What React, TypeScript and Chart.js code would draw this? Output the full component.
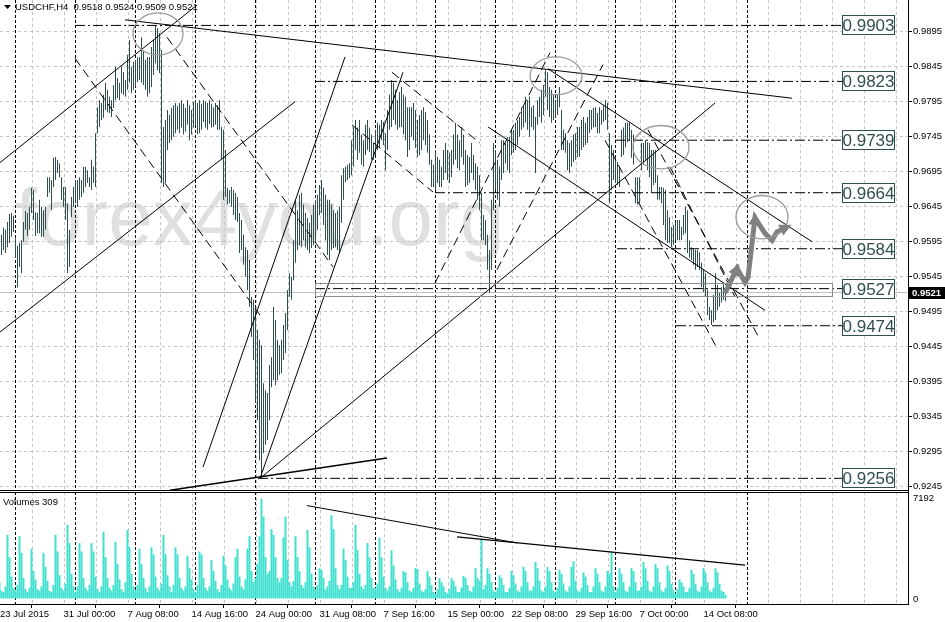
import React, { useEffect, useRef } from "react";
import { Chart, registerables } from "chart.js";

Chart.register(...registerables);

const FONT = '"Liberation Sans", Arial, sans-serif';

// ---------- texts ----------
const SYMBOL_TITLE = "USDCHF,H4";
const LAST_OHLC = ["0.9518", "0.9524", "0.9509", "0.9521"];
const VOLUME_TITLE = "Volumes 309";
const WATERMARK = "forex4you.org";
const BID = 0.9521;

// ---------- price data (H4 bars, index 0 = 23 Jul 2015 16:00) ----------
const HIGHS = [
  .9596,.9604,.9614,.9611,.9622,.9634,.9635,.9631,.9599,.9588,
  .9592,.9596,.9622,.9638,.9635,.9644,.9671,.9668,.9636,.9635,
  .9654,.9644,.9639,.9644,.9686,.9686,.9682,.9714,.9715,.9711,
  .9706,.9686,.9672,.9672,.9649,.9611,.9658,.9672,.9682,.9682,
  .9686,.9682,.9701,.9701,.9696,.9686,.9711,.9701,.9749,.9786,
  .9796,.9792,.9804,.9821,.9811,.9801,.9796,.9818,.9844,.9828,
  .9821,.9844,.9836,.9825,.9861,.9882,.9844,.9851,.9854,.9857,
  .9858,.9886,.9868,.9854,.9858,.9858,.9872,.9882,.9903,.9899,
  .9892,.9868,.9758,.9768,.9782,.9775,.9785,.9789,.9792,.9788,
  .9792,.9796,.9791,.9785,.9796,.9789,.9782,.9794,.9796,.9792,
  .9796,.9791,.9796,.9794,.9792,.9796,.9791,.9786,.9792,.9789,
  .9796,.9758,.9754,.9725,.9671,.9668,.9672,.9668,.9664,.9658,
  .9635,.9625,.9604,.9586,.9582,.9568,.9515,.9511,.9501,.9468,
  .9454,.9446,.9392,.9382,.9378,.9418,.9429,.9501,.9482,.9454,
  .9446,.9454,.9475,.9492,.9525,.9549,.9544,.9596,.9654,.9639,
  .9661,.9664,.9647,.9635,.9628,.9621,.9632,.9647,.9654,.9661,
  .9675,.9682,.9671,.9661,.9654,.9654,.9647,.9639,.9635,.9639,
  .9644,.9689,.9699,.9701,.9704,.9706,.9739,.9758,.9768,.9757,
  .9768,.9747,.9739,.9761,.9768,.9757,.9747,.9735,.9754,.9764,
  .9761,.9768,.9765,.9749,.9782,.9804,.9825,.9821,.9811,.9796,
  .9808,.9815,.9804,.9801,.9786,.9786,.9786,.9792,.9782,.9768,
  .9775,.9782,.9786,.9779,.9768,.9747,.9711,.9704,.9725,.9715,
  .9711,.9701,.9725,.9735,.9725,.9721,.9725,.9747,.9764,.9747,
  .9739,.9758,.9747,.9725,.9718,.9715,.9735,.9718,.9706,.9701,
  .9689,.9664,.9632,.9625,.9604,.9582,.9654,.9735,.9725,.9711,
  .9701,.9739,.9739,.9735,.9739,.9744,.9754,.9754,.9764,.9768,
  .9772,.9786,.9789,.9801,.9796,.9801,.9786,.9789,.9772,.9796,
  .9801,.9811,.9818,.9839,.9836,.9815,.9811,.9804,.9796,.9804,
  .9815,.9782,.9754,.9749,.9739,.9735,.9739,.9747,.9749,.9758,
  .9758,.9768,.9772,.9764,.9772,.9782,.9782,.9785,.9786,.9778,
  .9786,.9782,.9789,.9796,.9792,.9749,.9732,.9725,.9715,.9708,
  .9701,.9754,.9757,.9764,.9764,.9764,.9754,.9747,.9686,.9686,
  .9686,.9735,.9735,.9739,.9736,.9735,.9725,.9725,.9725,.9689,
  .9672,.9672,.9671,.9668,.9639,.9629,.9615,.9618,.9621,.9625,
  .9625,.9615,.9632,.9644,.9639,.9596,.9586,.9585,.9582,.9582,
  .9579,.9564,.9554,.9549,.9525,.9501,.9496,.9518,.9549,.9532,
  .9521,.9529,.9535,.9524,
];
const LOWS = [
  .9568,.9575,.9582,.9578,.9586,.9592,.9601,.9608,.9571,.9529,
  .9558,.9549,.9594,.9611,.9602,.9611,.9635,.9625,.9602,.9606,
  .9606,.9601,.9601,.9611,.9658,.9664,.9639,.9672,.9682,.9692,
  .9686,.9654,.9644,.9625,.9549,.9558,.9629,.9644,.9649,.9644,
  .9654,.9658,.9664,.9672,.9678,.9672,.9668,.9678,.9672,.9749,
  .9758,.9768,.9771,.9782,.9779,.9778,.9772,.9785,.9796,.9799,
  .9796,.9806,.9804,.9801,.9811,.9821,.9806,.9811,.9815,.9822,
  .9825,.9821,.9818,.9811,.9801,.9806,.9815,.9832,.9849,.9839,
  .9835,.9678,.9672,.9678,.9725,.9735,.9739,.9744,.9749,.9754,
  .9749,.9757,.9747,.9751,.9761,.9739,.9747,.9757,.9761,.9747,
  .9749,.9754,.9765,.9757,.9754,.9762,.9757,.9758,.9761,.9754,
  .9754,.9711,.9654,.9658,.9647,.9649,.9644,.9632,.9625,.9622,
  .9578,.9582,.9561,.9544,.9525,.9501,.9458,.9425,.9364,.9339,
  .9282,.9256,.9292,.9304,.9311,.9339,.9386,.9396,.9389,.9396,
  .9404,.9406,.9425,.9435,.9468,.9515,.9511,.9539,.9564,.9582,
  .9589,.9586,.9596,.9586,.9582,.9578,.9585,.9589,.9592,.9611,
  .9632,.9635,.9618,.9596,.9575,.9568,.9582,.9585,.9586,.9582,
  .9578,.9621,.9654,.9679,.9682,.9685,.9689,.9701,.9725,.9711,
  .9721,.9704,.9701,.9718,.9725,.9722,.9711,.9711,.9718,.9725,
  .9728,.9739,.9732,.9696,.9725,.9754,.9758,.9768,.9761,.9754,
  .9757,.9758,.9747,.9739,.9715,.9725,.9744,.9739,.9728,.9715,
  .9718,.9725,.9739,.9732,.9721,.9704,.9672,.9672,.9668,.9678,
  .9672,.9672,.9682,.9692,.9682,.9678,.9686,.9704,.9711,.9699,
  .9696,.9715,.9704,.9672,.9675,.9678,.9692,.9682,.9668,.9654,
  .9639,.9596,.9596,.9589,.9554,.9521,.9554,.9639,.9668,.9654,
  .9644,.9682,.9692,.9706,.9696,.9692,.9718,.9721,.9725,.9732,
  .9744,.9754,.9757,.9764,.9754,.9744,.9758,.9754,.9692,.9761,
  .9772,.9764,.9775,.9801,.9782,.9772,.9764,.9768,.9772,.9775,
  .9786,.9725,.9725,.9721,.9696,.9692,.9701,.9708,.9711,.9715,
  .9715,.9725,.9729,.9732,.9735,.9749,.9754,.9757,.9758,.9749,
  .9749,.9761,.9765,.9768,.9754,.9649,.9668,.9682,.9678,.9675,
  .9672,.9715,.9718,.9729,.9736,.9739,.9714,.9704,.9649,.9647,
  .9649,.9696,.9704,.9711,.9696,.9686,.9664,.9675,.9678,.9654,
  .9654,.9649,.9618,.9596,.9592,.9592,.9586,.9589,.9596,.9596,
  .9596,.9596,.9604,.9606,.9578,.9571,.9568,.9561,.9554,.9558,
  .9554,.9529,.9522,.9515,.9489,.9482,.9475,.9479,.9482,.9496,
  .9501,.9507,.9511,.9509,
];
const VOLUMES = [
  1200, 600,
  500, 900, 4600, 3000, 1600, 800,
  600, 1000, 4500, 3300, 1500, 700,
  500, 800, 3600, 2000, 1400, 700,
  600, 900, 3300, 2300, 1300, 600,
  500, 1000, 4600, 3400, 1700, 800,
  600, 1100, 5300, 4000, 1800, 900,
  500, 900, 4000, 3400, 1500, 800,
  600, 1000, 4000, 3400, 1600, 700,
  500, 900, 4800, 3000, 1500, 800,
  600, 1000, 4100, 2500, 1400, 700,
  500, 1200, 4950, 3700, 1800, 900,
  600, 1000, 3600, 2500, 1500, 800,
  500, 900, 3700, 3200, 1600, 800,
  600, 1100, 4600, 3200, 1700, 900,
  500, 1000, 3700, 3200, 1500, 800,
  600, 900, 3100, 2200, 1400, 700,
  500, 1000, 3400, 3200, 1500, 800,
  600, 900, 2800, 2000, 1300, 700,
  500, 1000, 3100, 2400, 1400, 800,
  600, 1100, 3000, 3600, 1600, 900,
  700, 1400, 3600, 4500, 2000, 1200,
  1500, 2500, 4500, 7192, 5900, 3000,
  1800, 2000, 5000, 4600, 3000, 1500,
  1200, 1500, 4400, 5900, 2800, 1200,
  900, 1300, 4500, 3000, 2000, 1000,
  800, 1200, 4950, 3700, 1800, 900,
  700, 1000, 2200, 2100, 1500, 700,
  900, 1300, 6000, 5000, 2200, 1000,
  700, 1000, 3600, 2800, 1600, 800,
  800, 1200, 5300, 3500, 1800, 900,
  700, 1000, 4000, 3000, 1500, 800,
  800, 1100, 4400, 3000, 1600, 800,
  600, 900, 3500, 2400, 1400, 700,
  500, 800, 2000, 1900, 1200, 600,
  500, 800, 2200, 2150, 1100, 600,
  500, 700, 2000, 1600, 1000, 500,
  400, 700, 1500, 1200, 900, 500,
  400, 700, 1500, 1300, 900, 500,
  500, 800, 1650, 1500, 1000, 600,
  500, 900, 2200, 1500, 1300, 4300,
  700, 1000, 2200, 1800, 1200, 600,
  500, 800, 1700, 1500, 1000, 500,
  500, 800, 2000, 1700, 1100, 600,
  500, 900, 2300, 2000, 1200, 600,
  600, 900, 2650, 2200, 1300, 600,
  500, 900, 2300, 2000, 1200, 600,
  500, 800, 2100, 1800, 1100, 600,
  500, 900, 2300, 2700, 1300, 600,
  500, 800, 1900, 1600, 1000, 500,
  500, 900, 2200, 1800, 1200, 600,
  500, 900, 2000, 1800, 3400, 900,
  500, 800, 2200, 1800, 1200, 600,
  500, 900, 2200, 2000, 1200, 600,
  600, 900, 2650, 2200, 1300, 600,
  500, 900, 2500, 2200, 1200, 600,
  500, 800, 2400, 2000, 1100, 600,
  400, 700, 1400, 1200, 900, 500,
  500, 800, 2100, 1800, 1100, 600,
  500, 900, 2200, 1900, 1200, 600,
  500, 800, 2200, 1900, 1100, 600,
  500, 300,
];

// ---------- axes ----------
const PRICE_TICKS = [0.9895, 0.9845, 0.9795, 0.9745, 0.9695, 0.9645, 0.9595, 0.9545, 0.9495, 0.9445, 0.9395, 0.9345, 0.9295, 0.9245];
const VOLUME_TICKS = [7192, 0];
const TIME_TICK_BARS = [0.25, 32, 64, 96, 128, 160, 192, 224, 256, 288, 320, 352];
const TIME_TICK_LABELS = ["23 Jul 2015", "31 Jul 00:00", "7 Aug 08:00", "14 Aug 16:00", "24 Aug 00:00", "31 Aug 08:00", "7 Sep 16:00", "15 Sep 00:00", "22 Sep 08:00", "29 Sep 16:00", "7 Oct 00:00", "14 Oct 08:00"];
const WEEK_SEPARATOR_BARS = [8, 38, 68, 98, 128, 158, 188, 218, 248, 278, 308, 338, 374];

// ---------- drawings (bar index, price) ----------
const LEVELS = [0.9903, 0.9823, 0.9739, 0.9664, 0.9584, 0.9527, 0.9474, 0.9256];
const LEVEL_START_BARS = [37.75, 157.75, 307.75, 217.75, 308.75, 157.75, 338.25, 129.25];
const LEVEL_LABEL_BARS = [421.5, 447.25];
const SOLID_LINES = [
  [62.75, .9911, 396.25, .9799],
  [0.25, .9707, 98.75, .9932],
  [0.25, .9465, 147.75, .9794],
  [101.75, .9272, 172.75, .9858],
  [130.25, .9256, 201.75, .9836],
  [130.25, .9256, 357.75, .9792],
  [85.25, .9239, 193.75, .9285],
  [244.25, .9758, 382.75, .9496],
  [274.25, .9841, 406.25, .9594],
];
const DASHED_LINES = [
  [37.75, .9856, 130.25, .9489],
  [83.75, .9886, 166.75, .9558],
  [196.25, .9836, 240.25, .9735],
  [176.25, .9761, 216.75, .9665],
  [217.75, .9535, 275.25, .9864],
  [248.75, .9554, 301.75, .9847],
  [302.75, .9739, 358.75, .9442],
  [324.25, .9754, 380.25, .9454],
  [335.25, .9701, 367.75, .9515],
];
const VOLUME_LINES = [
  [153.75, 6688, 258.75, 4013],
  [228.75, 4446, 372.75, 2422],
];
const FORECAST_BARS = [362.75, 368.75, 372.75, 374.25, 377.75, 382.75, 386.25, 388.75, 393.75];
const FORECAST_PRICES = [.9521, .9556, .9536, .9543, .9628, .9606, .9596, .9608, .9615];
const FORECAST_HEADS = [1, 4, 8];
const ELLIPSES = [
  [79.25, .9891, 12.5, .0030],
  [278.25, .9831, 13, .0027],
  [330.75, .9729, 14, .0031],
  [381.25, .9629, 13, .0031],
];
const ZONE = [157.75, .9535, 416.25, .9516];
const WATERMARK_AT = [7.75, .9589];

// ---------- ranges ----------
const X_MIN = 0.25;
const X_MAX = 454.25;
const Y_MIN = 0.92379;
const Y_MAX = 0.99393;
const VOL_MIN = -361;
const VOL_MAX = 7662;
const GRID_FIRST_BAR = 16.25;
const GRID_STEP_BARS = 16;

const BAR_COLOR = "#2f4f4f";
const VOL_COLOR = "#40e0d0";

function hLine(ctx: CanvasRenderingContext2D, x0: number, x1: number, y: number) {
  ctx.beginPath(); ctx.moveTo(x0, y); ctx.lineTo(x1, y); ctx.stroke();
}
function vLine(ctx: CanvasRenderingContext2D, x: number, y0: number, y1: number) {
  ctx.beginPath(); ctx.moveTo(x, y0); ctx.lineTo(x, y1); ctx.stroke();
}

function drawVerticalGrid(chart: any) {
  const { ctx, chartArea: a } = chart;
  const xs = chart.scales.x;
  ctx.lineWidth = 1;
  ctx.strokeStyle = "#c4c4c4";
  ctx.setLineDash([3, 3]);
  for (let b = GRID_FIRST_BAR; b < X_MAX; b += GRID_STEP_BARS) {
    vLine(ctx, Math.floor(xs.getPixelForValue(b)) + 0.5, a.top, a.bottom);
  }
  ctx.strokeStyle = "#000";
  ctx.setLineDash([3, 2]);
  WEEK_SEPARATOR_BARS.forEach((b) => vLine(ctx, Math.floor(xs.getPixelForValue(b)) + 0.5, a.top, a.bottom));
  ctx.setLineDash([]);
}

const pricePlugin = {
  id: "pricePanel",
  beforeDatasetsDraw(chart: any) {
    const { ctx, chartArea: a } = chart;
    const xs = chart.scales.x, ys = chart.scales.y;
    ctx.save();
    ctx.beginPath(); ctx.rect(a.left, a.top, a.right - a.left, a.bottom - a.top); ctx.clip();
    ctx.font = `80px ${FONT}`;
    ctx.fillStyle = "#e0e0e0";
    ctx.textAlign = "left";
    ctx.textBaseline = "alphabetic";
    ctx.fillText(WATERMARK, xs.getPixelForValue(WATERMARK_AT[0]), ys.getPixelForValue(WATERMARK_AT[1]));
    ctx.lineWidth = 1;
    ctx.strokeStyle = "#c4c4c4";
    ctx.setLineDash([3, 3]);
    PRICE_TICKS.forEach((v) => hLine(ctx, a.left, a.right, Math.floor(ys.getPixelForValue(v)) + 0.5));
    drawVerticalGrid(chart);
    ctx.strokeStyle = "#c0c0c0";
    hLine(ctx, a.left, a.right, Math.floor(ys.getPixelForValue(BID)) + 0.5);
    ctx.restore();
  },
  afterDatasetsDraw(chart: any) {
    const { ctx, chartArea: a } = chart;
    const xs = chart.scales.x, ys = chart.scales.y;
    ctx.save();
    ctx.beginPath(); ctx.rect(a.left, a.top, a.right - a.left, a.bottom - a.top); ctx.clip();
    ctx.strokeStyle = "#9c9c9c";
    ctx.lineWidth = 1.3;
    ELLIPSES.forEach(([b, p, rb, rp]) => {
      const cx = xs.getPixelForValue(b), cy = ys.getPixelForValue(p);
      const rx = Math.abs(xs.getPixelForValue(b + rb) - cx);
      const ry = Math.abs(ys.getPixelForValue(p + rp) - cy);
      ctx.beginPath(); ctx.ellipse(cx, cy, rx, ry, 0, 0, Math.PI * 2); ctx.stroke();
    });
    ctx.lineWidth = 1;
    ctx.strokeStyle = "#8c8c8c";
    const zx0 = Math.floor(xs.getPixelForValue(ZONE[0])) + 0.5;
    const zx1 = Math.floor(xs.getPixelForValue(ZONE[2])) + 0.5;
    const zy0 = Math.floor(ys.getPixelForValue(ZONE[1])) + 0.5;
    const zy1 = Math.floor(ys.getPixelForValue(ZONE[3])) + 0.5;
    ctx.strokeRect(zx0, zy0, zx1 - zx0, zy1 - zy0);
    const pts = FORECAST_BARS.map((b, i) => [xs.getPixelForValue(b), ys.getPixelForValue(FORECAST_PRICES[i])]);
    ctx.fillStyle = "#808080";
    FORECAST_HEADS.forEach((i) => {
      const [x0, y0] = pts[i - 1];
      const [x1, y1] = pts[i];
      const ang = Math.atan2(y1 - y0, x1 - x0);
      const c = Math.cos(ang), s = Math.sin(ang);
      const tx = x1 + c * 5, ty = y1 + s * 5;
      const L = 12, W = 6;
      ctx.beginPath();
      ctx.moveTo(tx, ty);
      ctx.lineTo(tx - L * c + W * s, ty - L * s - W * c);
      ctx.lineTo(tx - L * c - W * s, ty - L * s + W * c);
      ctx.closePath();
      ctx.fill();
    });
    const bx0 = Math.floor(xs.getPixelForValue(LEVEL_LABEL_BARS[0])) + 0.5;
    const bx1 = Math.floor(xs.getPixelForValue(LEVEL_LABEL_BARS[1])) + 0.5;
    ctx.font = `17px ${FONT}`;
    ctx.textAlign = "center";
    ctx.textBaseline = "middle";
    LEVELS.forEach((v) => {
      const cy = Math.round(ys.getPixelForValue(v));
      ctx.fillStyle = "#fff";
      ctx.fillRect(bx0, cy - 9.5, bx1 - bx0, 19);
      ctx.strokeStyle = BAR_COLOR;
      ctx.strokeRect(bx0, cy - 9.5, bx1 - bx0, 19);
      ctx.fillStyle = BAR_COLOR;
      ctx.fillText(v.toFixed(4), (bx0 + bx1) / 2, cy + 1);
    });
    ctx.restore();
  },
  afterDraw(chart: any) {
    const { ctx, chartArea: a, width } = chart;
    const ys = chart.scales.y;
    ctx.save();
    ctx.strokeStyle = "#000";
    ctx.lineWidth = 1;
    hLine(ctx, 0, a.right, a.bottom - 0.5);
    ctx.fillStyle = "#000";
    ctx.beginPath(); ctx.moveTo(4, 5); ctx.lineTo(11, 5); ctx.lineTo(7.5, 9); ctx.closePath(); ctx.fill();
    ctx.font = `9.5px ${FONT}`;
    ctx.textAlign = "left";
    ctx.textBaseline = "middle";
    ctx.fillText(`${SYMBOL_TITLE}  ${LAST_OHLC.join(" ")}`, 15, 7.5);
    const by = Math.round(ys.getPixelForValue(BID));
    ctx.fillStyle = "#000";
    ctx.fillRect(a.right + 1, by - 6, width - a.right - 1, 12);
    ctx.fillStyle = "#fff";
    ctx.font = `bold 9.5px ${FONT}`;
    ctx.fillText(BID.toFixed(4), a.right + 4, by + 0.5);
    ctx.restore();
  },
};

const volumePlugin = {
  id: "volumePanel",
  beforeDatasetsDraw(chart: any) {
    const { ctx, chartArea: a } = chart;
    ctx.save();
    ctx.beginPath(); ctx.rect(a.left, a.top, a.right - a.left, a.bottom - a.top); ctx.clip();
    drawVerticalGrid(chart);
    ctx.restore();
  },
  afterDraw(chart: any) {
    const { ctx, chartArea: a } = chart;
    ctx.save();
    ctx.strokeStyle = "#000";
    ctx.lineWidth = 1;
    hLine(ctx, 0, a.right, a.top + 0.5);
    ctx.fillStyle = "#000";
    ctx.font = `9.5px ${FONT}`;
    ctx.textAlign = "left";
    ctx.textBaseline = "middle";
    ctx.fillText(VOLUME_TITLE, 3, a.top + 10);
    ctx.restore();
  },
};

function segmentDataset(seg: number[], color: string, dash: number[], width = 1) {
  return {
    type: "line" as const,
    data: [{ x: seg[0], y: seg[1] }, { x: seg[2], y: seg[3] }],
    borderColor: color,
    borderWidth: width,
    borderDash: dash,
    pointRadius: 0,
    fill: false,
    tension: 0,
    order: 1,
  };
}

function zeroPad(s: any) {
  s.paddingLeft = 0; s.paddingRight = 0; s.paddingTop = 0; s.paddingBottom = 0;
}

export default function App() {
  const priceRef = useRef<HTMLCanvasElement>(null);
  const volRef = useRef<HTMLCanvasElement>(null);

  useEffect(() => {
    document.body.style.margin = "0";
    const tickFont = { family: FONT, size: 9.5 };

    const priceDatasets: any[] = [
      {
        type: "bar",
        data: HIGHS.map((h, i) => ({ x: i, y: [LOWS[i], h] })),
        backgroundColor: BAR_COLOR,
        barThickness: 1,
        borderWidth: 0,
        inflateAmount: 0,
        order: 10,
      },
      ...LEVELS.map((v, i) => segmentDataset([LEVEL_START_BARS[i], v, LEVEL_LABEL_BARS[0], v], "#000", [10, 3, 2, 3])),
      ...SOLID_LINES.map((s, i) => segmentDataset(s, "#000", [], i === 6 ? 1.5 : 1)),
      ...DASHED_LINES.map((s) => segmentDataset(s, "#000", [9, 5])),
      {
        type: "line",
        data: FORECAST_BARS.map((b, i) => ({ x: b, y: FORECAST_PRICES[i] })),
        borderColor: "#808080",
        borderWidth: 5,
        borderJoinStyle: "miter",
        pointRadius: 0,
        fill: false,
        tension: 0,
        order: 0,
      },
    ];

    const priceChart = new Chart(priceRef.current!, {
      type: "bar",
      data: { datasets: priceDatasets },
      options: {
        responsive: false,
        animation: false,
        events: [],
        layout: { padding: { left: 0, right: 0, top: 0, bottom: 1 } },
        plugins: { legend: { display: false }, tooltip: { enabled: false } },
        scales: {
          x: { type: "linear", display: false, min: X_MIN, max: X_MAX, offset: false, bounds: "data" },
          y: {
            type: "linear",
            position: "right",
            min: Y_MIN,
            max: Y_MAX,
            bounds: "data",
            afterBuildTicks: (s: any) => { s.ticks = PRICE_TICKS.map((v) => ({ value: v })); },
            afterFit: (s: any) => { s.width = 37; zeroPad(s); },
            ticks: { callback: (v: any) => Number(v).toFixed(4), font: tickFont, color: "#000", padding: 1, autoSkip: false },
            grid: { drawOnChartArea: false, drawTicks: true, tickLength: 4, color: "#000" },
            border: { display: true, color: "#000" },
          },
        },
      } as any,
      plugins: [pricePlugin],
    });

    const volDatasets: any[] = [
      {
        type: "bar",
        data: VOLUMES.map((v, i) => ({ x: i, y: v })),
        backgroundColor: VOL_COLOR,
        barThickness: 2,
        borderWidth: 0,
        inflateAmount: 0,
        order: 10,
      },
      ...VOLUME_LINES.map((s, i) => segmentDataset(s, "#000", [], i === 0 ? 1 : 1.2)),
    ];

    const volChart = new Chart(volRef.current!, {
      type: "bar",
      data: { datasets: volDatasets },
      options: {
        responsive: false,
        animation: false,
        events: [],
        layout: { padding: 0 },
        plugins: { legend: { display: false }, tooltip: { enabled: false } },
        scales: {
          x: {
            type: "linear",
            min: X_MIN,
            max: X_MAX,
            offset: false,
            bounds: "data",
            afterBuildTicks: (s: any) => { s.ticks = TIME_TICK_BARS.map((v) => ({ value: v })); },
            afterFit: (s: any) => { s.height = 18; zeroPad(s); },
            ticks: {
              callback: (_v: any, i: number) => TIME_TICK_LABELS[i],
              align: "start",
              maxRotation: 0,
              minRotation: 0,
              autoSkip: false,
              font: tickFont,
              color: "#000",
              padding: 1,
            },
            grid: { drawOnChartArea: false, drawTicks: true, tickLength: 4, color: "#000" },
            border: { display: true, color: "#000" },
          },
          y: {
            type: "linear",
            position: "right",
            min: VOL_MIN,
            max: VOL_MAX,
            bounds: "data",
            afterBuildTicks: (s: any) => { s.ticks = VOLUME_TICKS.map((v) => ({ value: v })); },
            afterFit: (s: any) => { s.width = 37; zeroPad(s); },
            ticks: { callback: (v: any) => String(v), font: tickFont, color: "#000", padding: 5, autoSkip: false },
            grid: { drawOnChartArea: false, drawTicks: false, color: "#000" },
            border: { display: true, color: "#000" },
          },
        },
      } as any,
      plugins: [volumePlugin],
    });

    return () => {
      priceChart.destroy();
      volChart.destroy();
    };
  }, []);

  return (
    <div style={{ width: 945, height: 622, position: "relative", background: "#fff", overflow: "hidden" }}>
      <canvas ref={priceRef} width={945} height={492} style={{ display: "block" }} />
      <canvas ref={volRef} width={945} height={130} style={{ display: "block" }} />
    </div>
  );
}
